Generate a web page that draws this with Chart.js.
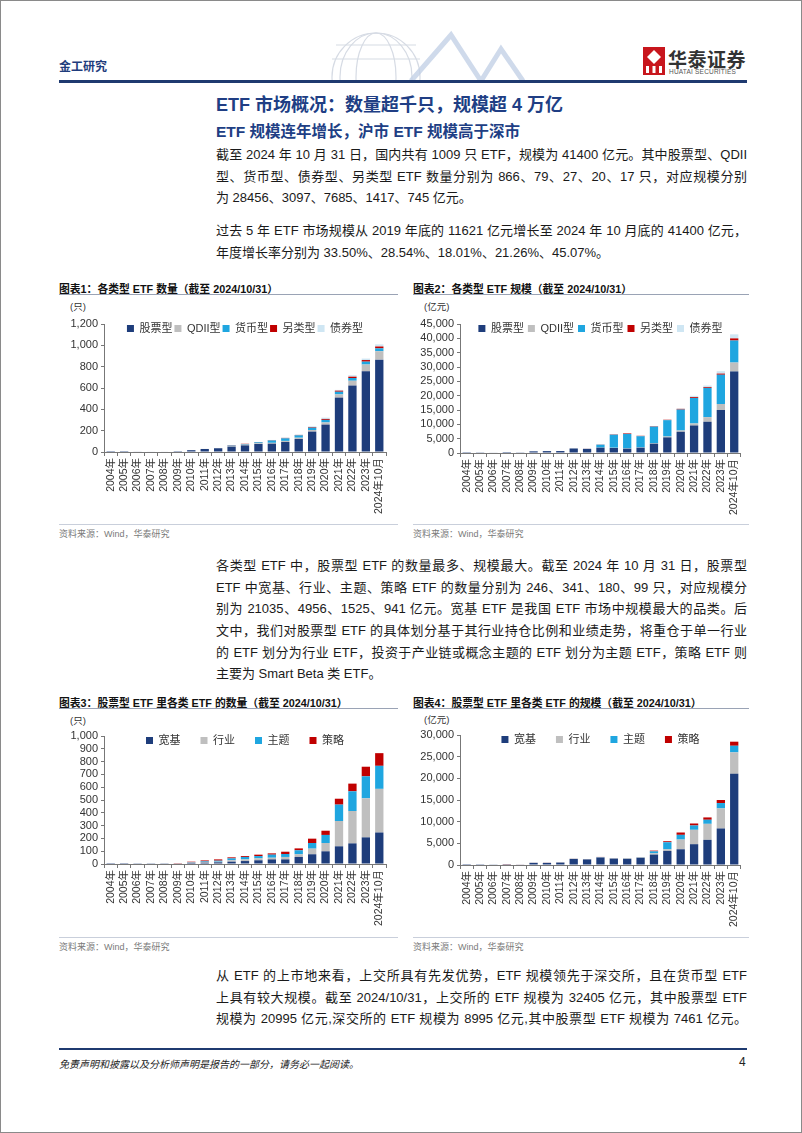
<!DOCTYPE html>
<html>
<head>
<meta charset="utf-8">
<script src="https://cdn.jsdelivr.net/npm/chart.js@4.4.1/dist/chart.umd.min.js"></script>
<style>
  body { margin: 0; background: #fff; }
  #page { position: relative; width: 800px; height: 1131px; border: 1px solid #8a8a8a; overflow: hidden;
    font-family: "Liberation Sans", Arial, "Noto Sans CJK SC", sans-serif; color: #1a1a1a; }
  .abs { position: absolute; }
  .ln { position: absolute; left: 215px; width: 531px; font-size: 13px; line-height: 16px;
    text-align: justify; text-align-last: justify; }
  .ln.last { text-align-last: left; }
  .ctitle { position: absolute; font-size: 10.8px; font-weight: bold; color: #111; white-space: nowrap; }
  .crule { position: absolute; height: 1px; background: #9aa3b5; }
  .srule { position: absolute; height: 1px; background: #c9cfdb; }
  .src { position: absolute; font-size: 9px; color: #7a7a7a; }
  .unit { position: absolute; font-size: 9.5px; color: #333; }
  .box { position: absolute; }
</style>
</head>
<body>
<div id="page">
  <!-- header -->
  <svg class="abs" style="left:290px;top:28px" width="240" height="52">
    <g fill="none" stroke="#d6dbe4" stroke-width="1.2">
      <circle cx="85" cy="48" r="44"/>
      <ellipse cx="85" cy="48" rx="20" ry="44"/>
      <ellipse cx="85" cy="48" rx="36" ry="44"/>
      <line x1="41" y1="30" x2="129" y2="30"/>
      <line x1="45" y1="16" x2="125" y2="16"/>
    </g>
    <g fill="none" stroke="#c3d1e6" stroke-width="5" opacity="0.8">
      <polyline points="120,52 160,6 190,52 210,20 232,52"/>
    </g>
  </svg>
  <div class="abs" style="left:58px;top:56px;font-size:12px;font-weight:bold;color:#1f3c7c">金工研究</div>
  <svg class="abs" style="left:642px;top:46px" width="22" height="28">
    <rect x="0" y="0" width="22" height="28" fill="#c8161d"/>
    <path d="M11 3 L18 10 L11 17 L4 10 Z" fill="#fff"/>
    <rect x="3" y="19" width="3" height="7" fill="#fff"/>
    <rect x="9.5" y="19" width="3" height="7" fill="#fff"/>
    <rect x="16" y="19" width="3" height="7" fill="#fff"/>
  </svg>
  <div class="abs" style="left:667px;top:44px;font-size:19px;font-weight:bold;color:#333;letter-spacing:0.5px">华泰证券</div>
  <div class="abs" style="left:668px;top:67px;font-size:6.5px;color:#555;letter-spacing:0.2px">HUATAI SECURITIES</div>
  <div class="abs" style="left:58px;top:79px;width:688px;height:3px;background:#1f3a70"></div>

  <div class="abs" style="left:215px;top:89px;font-size:18px;font-weight:bold;color:#203e84">ETF 市场概况：数量超千只，规模超 4 万亿</div>
  <div class="abs" style="left:215px;top:118px;font-size:15.5px;font-weight:bold;color:#203e84">ETF 规模连年增长，沪市 ETF 规模高于深市</div>

  <div class="ln" style="top:146px">截至 2024 年 10 月 31 日，国内共有 1009 只 ETF，规模为 41400 亿元。其中股票型、QDII</div>
  <div class="ln" style="top:168px">型、货币型、债券型、另类型 ETF 数量分别为 866、79、27、20、17 只，对应规模分别</div>
  <div class="ln last" style="top:189px">为 28456、3097、7685、1417、745 亿元。</div>
  <div class="ln" style="top:222px">过去 5 年 ETF 市场规模从 2019 年底的 11621 亿元增长至 2024 年 10 月底的 41400 亿元，</div>
  <div class="ln last" style="top:244px">年度增长率分别为 33.50%、28.54%、18.01%、21.26%、45.07%。</div>

  <!-- charts 1 & 2 -->
  <div class="ctitle" style="left:58px;top:279px">图表1：各类型 ETF 数量（截至 2024/10/31）</div>
  <div class="crule" style="left:58px;top:293px;width:339px"></div>
  <div class="ctitle" style="left:412px;top:279px">图表2：各类型 ETF 规模（截至 2024/10/31）</div>
  <div class="crule" style="left:412px;top:293px;width:336px"></div>
  <div class="unit" style="left:69px;top:298px">(只)</div>
  <div class="unit" style="left:423px;top:298px">(亿元)</div>
  <div class="box" style="left:58px;top:310px;width:338px;height:203px"><canvas id="c1"></canvas></div>
  <div class="box" style="left:412px;top:310px;width:336px;height:204px"><canvas id="c2"></canvas></div>
  <div class="srule" style="left:58px;top:523px;width:339px"></div>
  <div class="srule" style="left:412px;top:523px;width:336px"></div>
  <div class="src" style="left:58px;top:526px">资料来源：Wind，华泰研究</div>
  <div class="src" style="left:412px;top:526px">资料来源：Wind，华泰研究</div>

  <div class="ln" style="top:557px">各类型 ETF 中，股票型 ETF 的数量最多、规模最大。截至 2024 年 10 月 31 日，股票型</div>
  <div class="ln" style="top:579px">ETF 中宽基、行业、主题、策略 ETF 的数量分别为 246、341、180、99 只，对应规模分</div>
  <div class="ln" style="top:600px">别为 21035、4956、1525、941 亿元。宽基 ETF 是我国 ETF 市场中规模最大的品类。后</div>
  <div class="ln" style="top:622px">文中，我们对股票型 ETF 的具体划分基于其行业持仓比例和业绩走势，将重仓于单一行业</div>
  <div class="ln" style="top:644px">的 ETF 划分为行业 ETF，投资于产业链或概念主题的 ETF 划分为主题 ETF，策略 ETF 则</div>
  <div class="ln last" style="top:665px">主要为 Smart Beta 类 ETF。</div>

  <!-- charts 3 & 4 -->
  <div class="ctitle" style="left:58px;top:693px">图表3：股票型 ETF 里各类 ETF 的数量（截至 2024/10/31）</div>
  <div class="crule" style="left:58px;top:707px;width:339px"></div>
  <div class="ctitle" style="left:412px;top:693px">图表4：股票型 ETF 里各类 ETF 的规模（截至 2024/10/31）</div>
  <div class="crule" style="left:412px;top:707px;width:336px"></div>
  <div class="unit" style="left:69px;top:712px">(只)</div>
  <div class="unit" style="left:423px;top:711px">(亿元)</div>
  <div class="box" style="left:58px;top:722px;width:338px;height:203px"><canvas id="c3"></canvas></div>
  <div class="box" style="left:412px;top:721px;width:336px;height:205px"><canvas id="c4"></canvas></div>
  <div class="srule" style="left:58px;top:936px;width:339px"></div>
  <div class="srule" style="left:412px;top:936px;width:336px"></div>
  <div class="src" style="left:58px;top:939px">资料来源：Wind，华泰研究</div>
  <div class="src" style="left:412px;top:939px">资料来源：Wind，华泰研究</div>

  <div class="ln" style="top:967px">从 ETF 的上市地来看，上交所具有先发优势，ETF 规模领先于深交所，且在货币型 ETF</div>
  <div class="ln" style="top:989px">上具有较大规模。截至 2024/10/31，上交所的 ETF 规模为 32405 亿元，其中股票型 ETF</div>
  <div class="ln" style="top:1010px">规模为 20995 亿元,深交所的 ETF 规模为 8995 亿元,其中股票型 ETF 规模为 7461 亿元。</div>

  <!-- footer -->
  <div class="abs" style="left:58px;top:1047px;width:688px;height:2px;background:#1f3a70"></div>
  <div class="abs" style="left:58px;top:1055px;font-size:10px;font-style:italic;color:#222">免责声明和披露以及分析师声明是报告的一部分，请务必一起阅读。</div>
  <div class="abs" style="left:738px;top:1054px;font-size:12px;color:#222">4</div>
</div>

<script>
  const years = ['2004年', '2005年', '2006年', '2007年', '2008年', '2009年', '2010年', '2011年', '2012年', '2013年',
    '2014年', '2015年', '2016年', '2017年', '2018年', '2019年', '2020年', '2021年', '2022年', '2023年', '2024年10月']

  // 图表1 数量（只）
  const cntStock = [1, 1, 4, 5, 5, 8, 17, 28, 35, 50, 62, 75, 78, 94, 122, 191, 257, 510, 623, 757, 866]
  const cntQdii = [0, 0, 0, 0, 0, 0, 0, 1, 2, 5, 6, 7, 8, 10, 12, 15, 20, 30, 45, 63, 79]
  const cntMoney = [0, 0, 0, 0, 0, 0, 0, 0, 0, 5, 5, 9, 22, 24, 22, 22, 24, 25, 26, 27, 27]
  const cntOther = [0, 0, 0, 0, 0, 0, 0, 0, 0, 3, 4, 3, 3, 4, 4, 6, 9, 10, 12, 15, 17]
  const cntBond = [0, 0, 0, 0, 0, 0, 0, 0, 0, 2, 1, 0, 2, 3, 3, 7, 12, 7, 14, 14, 20]

  // 图表2 规模（亿元）
  const aumStock = [50, 100, 150, 330, 240, 580, 660, 680, 1580, 1450, 1850, 1750, 1500, 1850, 3250, 5450, 7400, 9600, 10900, 15000, 28456]
  const aumQdii = [0, 0, 0, 0, 0, 10, 10, 10, 20, 30, 50, 80, 100, 100, 150, 300, 450, 700, 1600, 2100, 3097]
  const aumMoney = [0, 0, 0, 0, 0, 0, 0, 0, 0, 0, 1000, 4550, 5050, 3900, 5800, 5700, 7300, 8900, 10200, 10200, 7685]
  const aumOther = [0, 0, 0, 0, 0, 0, 0, 0, 0, 20, 60, 120, 200, 150, 150, 150, 250, 300, 280, 400, 745]
  const aumBond = [0, 0, 0, 0, 0, 0, 0, 0, 0, 0, 40, 50, 50, 30, 50, 21, 114, 442, 553, 836, 1417]

  // 图表3 股票型 ETF 数量（只）
  const nBroad = [1, 1, 2, 2, 2, 3, 8, 10, 13, 18, 23, 29, 36, 36, 55, 76, 99, 138, 161, 208, 246]
  const nSector = [0, 0, 0, 0, 0, 0, 2, 6, 5, 11, 13, 15, 13, 19, 21, 44, 65, 198, 253, 305, 341]
  const nTheme = [0, 0, 0, 0, 0, 0, 3, 5, 8, 15, 19, 18, 24, 23, 31, 44, 63, 128, 154, 172, 180]
  const nStrat = [0, 0, 0, 0, 0, 2, 5, 7, 10, 8, 7, 11, 10, 18, 15, 34, 33, 46, 60, 75, 99]

  // 图表4 股票型 ETF 规模（亿元）
  const sBroad = [30, 50, 80, 180, 140, 480, 470, 540, 1380, 1270, 1720, 1450, 1400, 1640, 2400, 3250, 3630, 4800, 5800, 8430, 21035]
  const sSector = [0, 0, 0, 0, 0, 20, 20, 20, 30, 40, 50, 80, 120, 100, 300, 380, 2240, 3320, 3700, 4630, 4956]
  const sTheme = [0, 0, 0, 0, 0, 20, 20, 30, 30, 40, 50, 50, 60, 70, 450, 1620, 1090, 1000, 940, 1240, 1525]
  const sStrat = [0, 0, 0, 50, 10, 20, 30, 30, 30, 40, 40, 40, 40, 40, 170, 240, 540, 460, 540, 700, 941]

  const navy = '#1e3d7b'
  const gray = '#bfbfbf'
  const cyan = '#1fa6e0'
  const red = '#c00000'
  const pale = '#cfe6f3'

  Chart.defaults.font.family = '"Liberation Sans", Arial, "Noto Sans CJK SC", sans-serif'
  Chart.defaults.color = '#333'

  // legend drawn in one row across the top of the plot area
  const rowLegend = {
    id: 'rowLegend',
    afterInit(chart) {
      if (chart.legend) chart.legend.isHorizontal = () => true
    },
    beforeDraw(chart) {
      const lg = chart.legend
      const area = chart.chartArea
      const pad = lg.options.labels.padding
      lg.left = area.left
      lg.right = area.right
      lg.width = area.right - area.left
      lg.top = area.top - pad - 1
    }
  }

  function makeChart(id, sets, yMax, yStep, axisW, padRight, legendPad) {
    return new Chart(document.getElementById(id), {
      type: 'bar',
      data: {
        labels: years,
        datasets: sets.map(s => ({
          label: s[0], data: s[1], backgroundColor: s[2], borderWidth: 0,
          barPercentage: 0.62, categoryPercentage: 1
        }))
      },
      options: {
        responsive: true,
        maintainAspectRatio: false,
        animation: false,
        layout: { padding: { top: 13, right: padRight, left: 0, bottom: 0 } },
        plugins: {
          legend: {
            position: 'chartArea',
            align: 'center',
            labels: { boxWidth: 7, boxHeight: 7, padding: legendPad, font: { size: 11 }, color: '#333' }
          },
          tooltip: { enabled: false }
        },
        scales: {
          x: {
            stacked: true,
            grid: { drawOnChartArea: false, tickLength: 4, color: '#777' },
            border: { color: '#777' },
            ticks: { minRotation: 90, maxRotation: 90, autoSkip: false, font: { size: 10.5 }, padding: 2 },
            afterFit: a => { a.height = 62 }
          },
          y: {
            stacked: true,
            min: 0,
            max: yMax,
            ticks: { stepSize: yStep, autoSkip: false, font: { size: 11 }, padding: 3 },
            grid: { drawOnChartArea: false, tickLength: 3, color: '#777' },
            border: { color: '#777' },
            afterFit: a => { a.width = axisW }
          }
        }
      },
      plugins: [rowLegend]
    })
  }

  makeChart('c1', [['股票型', cntStock, navy], ['QDII型', cntQdii, gray], ['货币型', cntMoney, cyan],
    ['另类型', cntOther, red], ['债券型', cntBond, pale]], 1200, 200, 45, 11, 2)
  makeChart('c2', [['股票型', aumStock, navy], ['QDII型', aumQdii, gray], ['货币型', aumMoney, cyan],
    ['另类型', aumOther, red], ['债券型', aumBond, pale]], 45000, 5000, 47, 8, 4)
  makeChart('c3', [['宽基', nBroad, navy], ['行业', nSector, gray], ['主题', nTheme, cyan],
    ['策略', nStrat, red]], 1000, 100, 45, 11, 20)
  makeChart('c4', [['宽基', sBroad, navy], ['行业', sSector, gray], ['主题', sTheme, cyan],
    ['策略', sStrat, red]], 30000, 5000, 47, 8, 20)

  // shrink any text line that wraps so every line stays on one row
  document.querySelectorAll('.ln').forEach(el => {
    let size = 13
    while (el.scrollHeight > 20 && size > 10) {
      size -= 0.2
      el.style.fontSize = size + 'px'
    }
  })
</script>
</body>
</html>
